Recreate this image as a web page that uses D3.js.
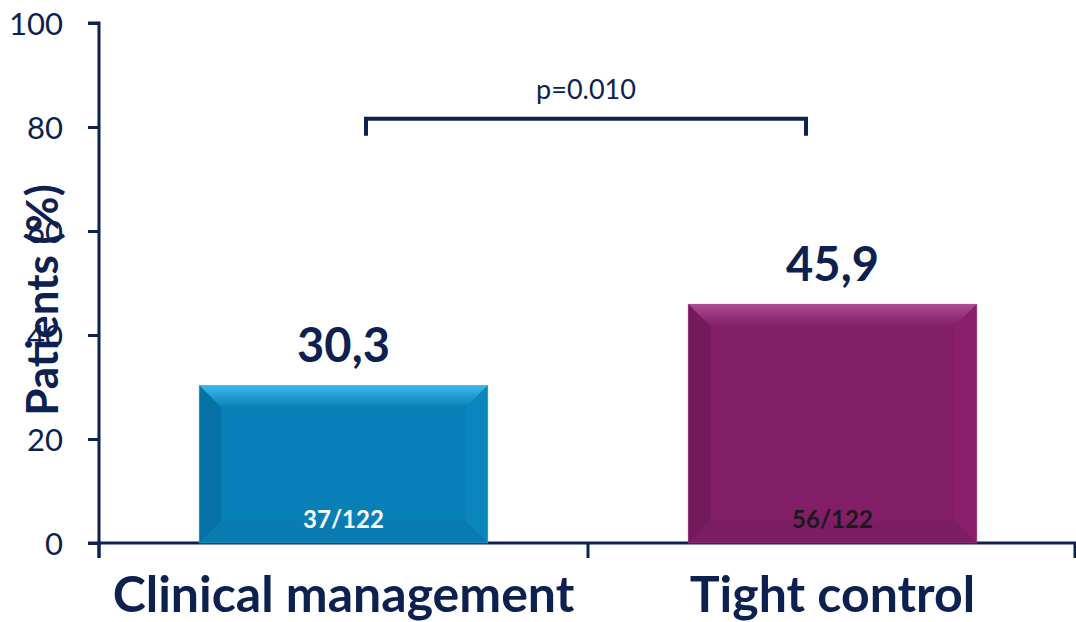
<!DOCTYPE html>
<html>
<head>
<meta charset="utf-8">
<script src="https://cdn.jsdelivr.net/npm/d3@7"></script>
<style>
  html, body { margin: 0; padding: 0; background: #fff; }
  svg { display: block; }
  text { font-family: Lato, "Open Sans", sans-serif; }
</style>
</head>
<body>
<svg id="chart" width="1076" height="622"></svg>
<script>
// Chart data
const categories = ["Clinical management", "Tight control"];
const values = [30.3, 45.9];
const valueLabels = ["30,3", "45,9"];
const countLabels = ["37/122", "56/122"];
const yTicks = [0, 20, 40, 60, 80, 100];
const pLabel = "p=0.010";

const navy = "#0d2150";
const palettes = [
  { main: "#0880b7", top: "#3cb9ea", left: "#0671a4", right: "#0b86bd", bottom: "#0a7bb0", text: "#ffffff" },
  { main: "#821e66", top: "#ad4a92", left: "#741a5b", right: "#8a206c", bottom: "#7c1c62", text: "#1a1a1a" }
];

const svg = d3.select("#chart");
const x = d3.scaleBand().domain(categories).range([99, 1077]).padding(0);
const y = d3.scaleLinear().domain([0, 100]).range([543, 23]);
const barW = x.bandwidth() * 0.59;
const bevel = 22;

const defs = svg.append("defs");
palettes.forEach((p, i) => {
  const g = defs.append("linearGradient").attr("id", "topg" + i)
    .attr("x1", 0).attr("y1", 0).attr("x2", 0).attr("y2", 1);
  g.append("stop").attr("offset", 0).attr("stop-color", p.top);
  g.append("stop").attr("offset", 1).attr("stop-color", p.main);
});

// Y axis
const yAxis = svg.append("g").attr("transform", "translate(99,0)")
  .call(d3.axisLeft(y).tickValues(yTicks).tickSize(11).tickPadding(25));
yAxis.select(".domain").attr("stroke", navy).attr("stroke-width", 3)
  .attr("d", `M-11,${y(100)}H0V${y(0) + 15}`);
yAxis.selectAll(".tick line").attr("stroke", navy).attr("stroke-width", 3);
yAxis.selectAll(".tick text").attr("fill", navy).attr("font-size", 31)
  .attr("font-family", "Lato, sans-serif").attr("dy", "0.36em");

// X axis
const xAxis = svg.append("g").attr("transform", `translate(0,${y(0)})`);
xAxis.append("line").attr("x1", 88).attr("x2", 1076).attr("y1", 0).attr("y2", 0)
  .attr("stroke", navy).attr("stroke-width", 3);
const xTickPos = [x.range()[0], x(categories[1]), x.range()[1] - 2];
xAxis.selectAll("line.xt").data(xTickPos).join("line").attr("class", "xt")
  .attr("x1", d => d).attr("x2", d => d).attr("y1", 0).attr("y2", 15)
  .attr("stroke", navy).attr("stroke-width", 3);
xAxis.selectAll("text.cat").data(categories).join("text").attr("class", "cat")
  .attr("x", d => x(d) + x.bandwidth() / 2).attr("y", 69)
  .attr("text-anchor", "middle").attr("font-size", 50).attr("font-weight", 700)
  .attr("fill", navy).text(d => d);

// Y axis title
svg.append("text")
  .attr("transform", "translate(58,300) rotate(-90)")
  .attr("text-anchor", "middle").attr("font-size", 44).attr("font-weight", 700)
  .attr("fill", navy).text("Patients (%)");

// Bevelled bars
const bars = svg.append("g").selectAll("g").data(values).join("g");
bars.each(function (v, i) {
  const g = d3.select(this);
  const p = palettes[i];
  const x0 = x(categories[i]) + (x.bandwidth() - barW) / 2;
  const x1 = x0 + barW;
  const y0 = y(v), y1 = y(0);
  g.append("rect").attr("x", x0).attr("y", y0).attr("width", barW).attr("height", y1 - y0)
    .attr("fill", p.main);
  const poly = (pts, fill) => g.append("polygon")
    .attr("points", pts.map(q => q.join(",")).join(" ")).attr("fill", fill);
  poly([[x0, y0], [x1, y0], [x1 - bevel, y0 + bevel], [x0 + bevel, y0 + bevel]], `url(#topg${i})`);
  poly([[x0, y0], [x0 + bevel, y0 + bevel], [x0 + bevel, y1 - bevel], [x0, y1]], p.left);
  poly([[x1, y0], [x1, y1], [x1 - bevel, y1 - bevel], [x1 - bevel, y0 + bevel]], p.right);
  poly([[x0, y1], [x0 + bevel, y1 - bevel], [x1 - bevel, y1 - bevel], [x1, y1]], p.bottom);
  g.append("rect").attr("x", x0).attr("y", y0).attr("width", barW).attr("height", y1 - y0)
    .attr("fill", "none").attr("stroke", p.top).attr("stroke-opacity", 0.5).attr("stroke-width", 1);

  const cx = x(categories[i]) + x.bandwidth() / 2;
  g.append("text").attr("x", cx).attr("y", y0 - 23).attr("text-anchor", "middle")
    .attr("font-size", 47).attr("font-weight", 700).attr("fill", navy).text(valueLabels[i]);
  g.append("text").attr("x", cx).attr("y", y1 - 15).attr("text-anchor", "middle")
    .attr("font-size", 24).attr("font-weight", 700).attr("fill", p.text).text(countLabels[i]);
});

// Significance bracket
const bx0 = 366, bx1 = 806, by = y(81.6);
svg.append("path")
  .attr("d", `M${bx0},${by + 17}V${by}H${bx1}V${by + 17}`)
  .attr("fill", "none").attr("stroke", navy).attr("stroke-width", 4);
svg.append("text").attr("x", (bx0 + bx1) / 2).attr("y", by - 20).attr("text-anchor", "middle")
  .attr("font-size", 27).attr("fill", navy).text(pLabel);
</script>
</body>
</html>
